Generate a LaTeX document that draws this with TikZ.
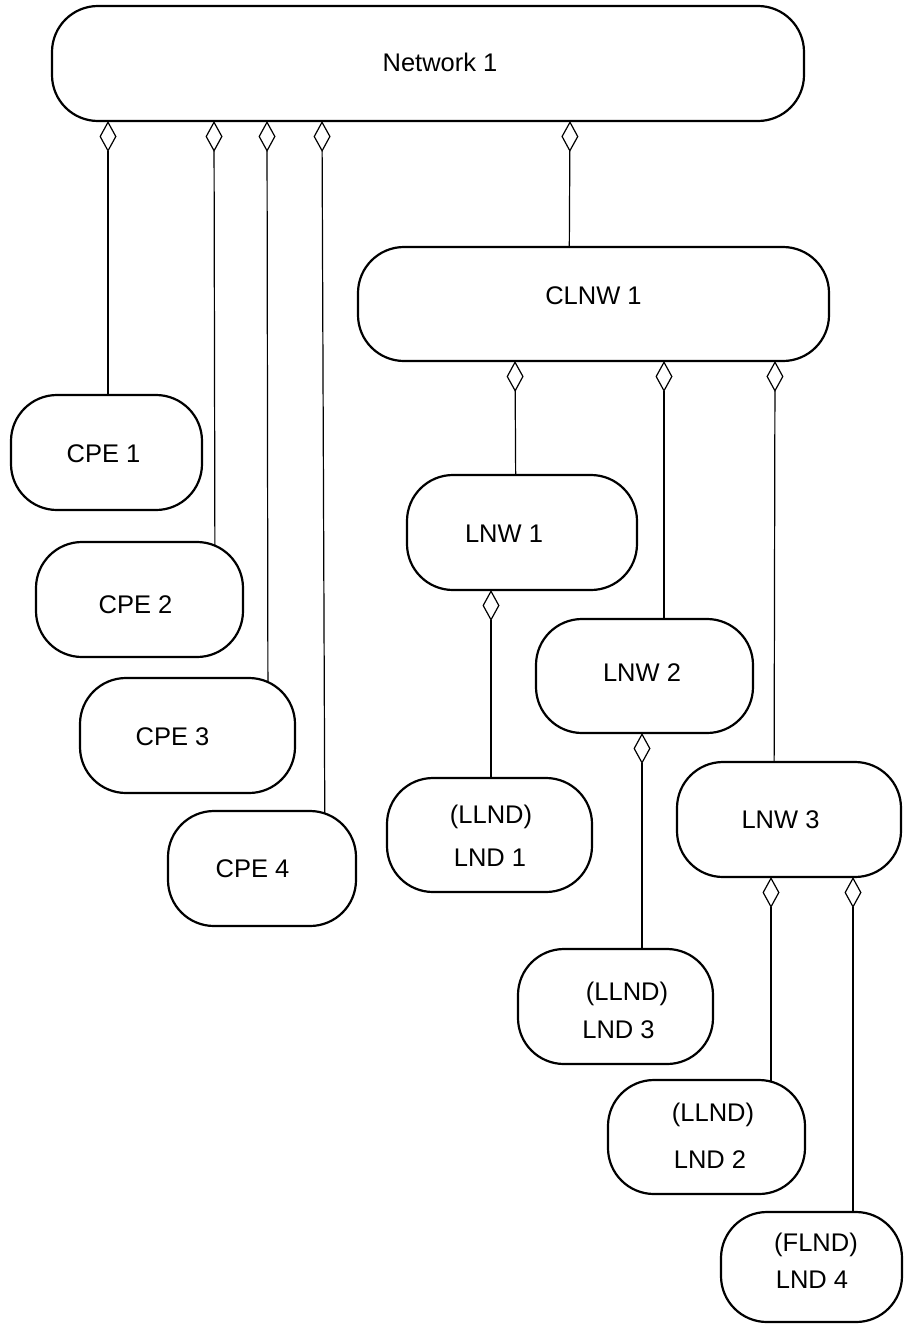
\documentclass[tikz,border=0pt]{standalone}
\usepackage{fontspec}
\setmainfont{Liberation Sans}
\usetikzlibrary{arrows.meta}
\pgfdeclarelayer{background}
\pgfsetlayers{background,main}

\tikzset{
  unit/.style={draw, line width=2.2pt, fill=white, rounded corners=46pt,
    inner sep=0pt, outer sep=0pt},
  lbl/.style={anchor=base, inner sep=0pt, outer sep=0pt,
    font=\fontsize{25.5}{30}\selectfont},
  part/.style={line width=1.2pt, {Diamond[open,length=31pt,width=17pt]}-}
}

\begin{document}
\begin{tikzpicture}[x=1pt,y=-1pt]
\useasboundingbox (0,0) rectangle (904,1325);

\node[unit, minimum width=752pt, minimum height=115pt] (net) at (428,63.5) {};
\node[unit, minimum width=471pt, minimum height=114pt] (clnw) at (593.5,304) {};

\node[unit, minimum width=191pt, minimum height=115pt] (cpe1) at (106.5,452.5) {};
\node[unit, minimum width=207pt, minimum height=115pt] (cpe2) at (139.5,599.5) {};
\node[unit, minimum width=215pt, minimum height=115pt] (cpe3) at (187.5,735.5) {};
\node[unit, minimum width=188pt, minimum height=115pt] (cpe4) at (262,868.5) {};

\node[unit, minimum width=230pt, minimum height=115pt] (lnw1) at (522,532.5) {};
\node[unit, minimum width=217pt, minimum height=114pt] (lnw2) at (644.5,676) {};
\node[unit, minimum width=224pt, minimum height=115pt] (lnw3) at (789,819.5) {};

\node[unit, minimum width=205pt, minimum height=114pt] (lnd1) at (489.5,835) {};
\node[unit, minimum width=195pt, minimum height=115pt] (lnd3) at (615.5,1006.5) {};
\node[unit, minimum width=197pt, minimum height=114pt] (lnd2) at (706.5,1137) {};
\node[unit, minimum width=181pt, minimum height=110pt] (lnd4) at (811.5,1267) {};

\node[lbl] (netlbl) at (440,71) {Network 1};
\node[lbl] (clnwlbl) at (593.5,304) {CLNW 1};
\node[lbl] (cpe1lbl) at (103.5,462) {CPE 1};
\node[lbl] (cpe2lbl) at (135.5,613) {CPE 2};
\node[lbl] (cpe3lbl) at (172.5,745) {CPE 3};
\node[lbl] (cpe4lbl) at (252.5,877) {CPE 4};
\node[lbl] (lnw1lbl) at (504,542) {LNW 1};
\node[lbl] (lnw2lbl) at (642,681) {LNW 2};
\node[lbl] (lnw3lbl) at (780.5,828) {LNW 3};
\node[lbl] (lnd1kind) at (491,823) {(LLND)};
\node[lbl] (lnd1lbl) at (490,866) {LND 1};
\node[lbl] (lnd3kind) at (627,1000) {(LLND)};
\node[lbl] (lnd3lbl) at (618.5,1038) {LND 3};
\node[lbl] (lnd2kind) at (713,1121) {(LLND)};
\node[lbl] (lnd2lbl) at (710,1168) {LND 2};
\node[lbl] (lnd4kind) at (816,1251) {(FLND)};
\node[lbl] (lnd4lbl) at (812,1288) {LND 4};

\begin{pgfonlayer}{background}
\draw[part] (net.south -| 108,0) -- (cpe1.center -| 108,0);
\draw[part] (net.south -| 214,0) -- (cpe2.center -| 215,0);
\draw[part] (net.south -| 267,0) -- (cpe3.center -| 268,0);
\draw[part] (net.south -| 322,0) -- (cpe4.center -| 325,0);
\draw[part] (net.south -| 570,0) -- (clnw.center -| 569,0);

\draw[part] (clnw.south -| 515,0) -- (lnw1.center -| 516,0);
\draw[part] (clnw.south -| 664,0) -- (lnw2.center -| 664,0);
\draw[part] (clnw.south -| 775,0) -- (lnw3.center -| 774,0);

\draw[part] (lnw1.south -| 491,0) -- (lnd1.center -| 491,0);
\draw[part] (lnw2.south -| 642,0) -- (lnd3.center -| 642,0);
\draw[part] (lnw3.south -| 771,0) -- (lnd2.center -| 771,0);
\draw[part] (lnw3.south -| 853,0) -- (lnd4.center -| 853,0);
\end{pgfonlayer}
\end{tikzpicture}
\end{document}
